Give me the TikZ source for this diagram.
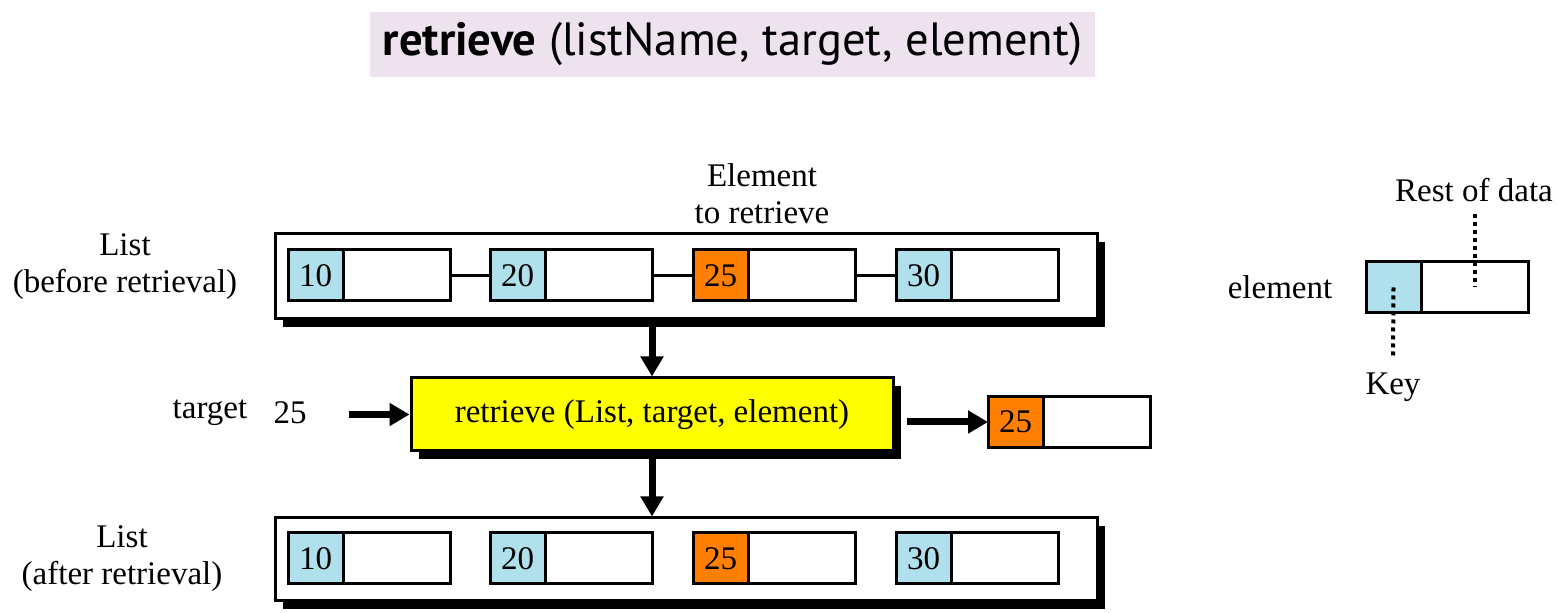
\documentclass[tikz,border=0pt]{standalone}
\usepackage{fontspec}
\setmainfont{Liberation Serif}
\newfontfamily\titlefont{PT Sans}
\usetikzlibrary{arrows.meta,positioning,shadows}
\definecolor{keyblue}{RGB}{176,224,235}
\definecolor{keyorange}{RGB}{255,128,0}
\definecolor{procyellow}{RGB}{255,255,0}
\definecolor{titlebg}{RGB}{238,226,239}

\begin{document}
\begin{tikzpicture}[x=0.5pt,y=-0.5pt,
		every node/.style={font=\fontsize{16.5}{18.5}\selectfont, inner sep=0pt},
		cell/.style={draw, line width=1.5pt, outer sep=0pt, minimum height=25.5pt},
		keycell/.style={cell, minimum width=27.5pt},
		datacell/.style={cell, fill=white, minimum width=53.5pt},
		shadowed/.style={general shadow={fill=black, shadow xshift=4pt, shadow yshift=-4pt}},
		listbox/.style={draw, fill=white, line width=1.5pt, minimum width=411pt, shadowed},
		bigarrow/.style={line width=3.5pt, -{Triangle[length=10pt,width=11pt]}},
		dotline/.style={line width=2pt, dash pattern=on 2pt off 2pt}]
	\useasboundingbox (0,0) rectangle (1565,613);
	% title
	\node[fill=titlebg, minimum width=362.5pt, minimum height=32.5pt,
		font=\titlefont\fontsize{23.3}{26}\selectfont] (title) at (732.5,44.5)
		{\textbf{retrieve} (listName, target, element)};
	% list before retrieval
	\node[listbox, minimum height=42.5pt] (before) at (686,276.5) {};
	\foreach \v/\x/\c in {10/288/keyblue,20/490/keyblue,25/693/keyorange,30/896/keyblue} {
		\node[keycell, fill=\c, anchor=west] (bk\v) at (\x,275.5) {\v};
		\node[datacell, anchor=west] (bd\v) at (bk\v.east) {};
	}
	\draw[line width=1.5pt] (bd10) -- (bk20) (bd20) -- (bk25) (bd25) -- (bk30);
	\node[align=center] (blabel) at (125,267) {List\\(before retrieval)};
	\node[align=center] (elabel) at (762,194) {Element\\to retrieve};
	% the operation
	\node[draw, fill=procyellow, line width=1.5pt, minimum width=241pt,
		minimum height=36.5pt, shadowed] (ret) at (652,414.5) {retrieve (List, target, element)};
	\node (tlabel) at (210,413) {target};
	\node (tval) at (290,413) {25};
	\node[keycell, fill=keyorange, anchor=west] (rk) at (988,422) {25};
	\node[datacell, anchor=west] (rd) at (rk.east) {};
	% list after retrieval
	\node[listbox, minimum height=41.5pt] (after) at (686,559.5) {};
	\foreach \v/\x/\c in {10/288/keyblue,20/490/keyblue,25/693/keyorange,30/896/keyblue} {
		\node[keycell, fill=\c, anchor=west] (ak\v) at (\x,558.5) {\v};
		\node[datacell, anchor=west] (ad\v) at (ak\v.east) {};
	}
	\node[align=center] (alabel) at (122,558.5) {List\\(after retrieval)};
	% arrows
	\draw[bigarrow] (ret.north |- before.south) -- (ret.north);
	\draw[bigarrow] (ret.south) -- (ret.south |- after.north);
	\draw[bigarrow] ([xshift=21pt]tval.east |- ret.west) -- (ret.west);
	\draw[bigarrow] ([xshift=6pt]ret.east |- rk.west) -- (rk.west);
	% element legend
	\node (elem) at (1280,287) {element};
	\node[keycell, fill=keyblue, anchor=west] (lk) at (1366,287.5) {};
	\node[datacell, anchor=west] (ld) at (lk.east) {};
	\node (rest) at (1474,190) {Rest of data};
	\node (key) at (1393,387) {Key};
	\draw[dotline] ([yshift=-6pt]ld.center |- rest.south) -- (ld.center);
	\draw[dotline] (lk.center) -- ([yshift=7pt]key.north);
\end{tikzpicture}
\end{document}
